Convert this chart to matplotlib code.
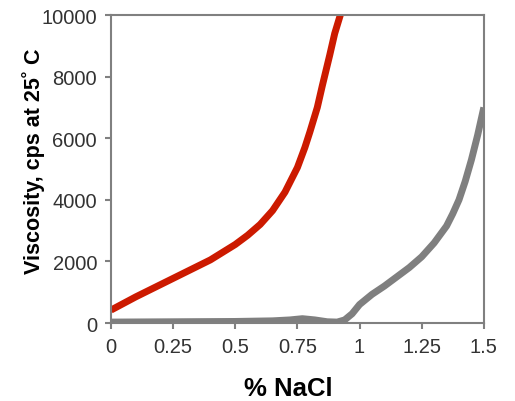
import matplotlib
matplotlib.use('Agg')
import matplotlib.pyplot as plt

plt.rcParams['font.family'] = ['Liberation Sans', 'DejaVu Sans']

# red curve (% NaCl vs viscosity)
red_x = [0, 0.1, 0.2, 0.25, 0.3, 0.4, 0.5, 0.55, 0.6, 0.65, 0.7, 0.75,
         0.78, 0.8, 0.83, 0.85, 0.88, 0.9, 0.93]
red_y = [420, 850, 1250, 1450, 1650, 2050, 2550, 2850, 3200, 3650, 4250, 5050,
         5700, 6200, 7000, 7700, 8700, 9400, 10200]

# gray curve
gray_x = [0, 0.25, 0.5, 0.65, 0.72, 0.77, 0.82, 0.87, 0.91, 0.94, 0.97, 1.0,
          1.05, 1.1, 1.15, 1.2, 1.25, 1.3, 1.35, 1.375, 1.4, 1.425, 1.45,
          1.475, 1.5]
gray_y = [30, 40, 50, 70, 100, 140, 100, 40, 30, 100, 300, 600,
          930, 1200, 1500, 1800, 2150, 2600, 3150, 3550, 4000, 4600, 5300,
          6100, 7000]

x_ticks = [0, 0.25, 0.5, 0.75, 1, 1.25, 1.5]
x_labels = ['0', '0.25', '0.5', '0.75', '1', '1.25', '1.5']
y_ticks = [0, 2000, 4000, 6000, 8000, 10000]


def main():
    fig = plt.figure(figsize=(5.15, 4.02), dpi=100)
    ax = fig.add_axes([0.2155, 0.194, 0.724, 0.766])
    ax.plot(gray_x, gray_y, color='#7f7f7f', lw=5, solid_capstyle='butt',
            solid_joinstyle='round')
    ax.plot(red_x, red_y, color='#cc1a00', lw=5, solid_capstyle='butt',
            solid_joinstyle='round')
    ax.set_xlim(0, 1.5)
    ax.set_ylim(0, 10000)
    ax.set_xticks(x_ticks)
    ax.set_xticklabels(x_labels)
    ax.set_yticks(y_ticks)
    for s in ax.spines.values():
        s.set_color('#808080')
        s.set_linewidth(1.5)
    ax.tick_params(direction='out', length=4, width=1.5, color='#808080',
                   labelsize=14.5, labelcolor='#333333', pad=6)
    ax.set_xlabel('% NaCl', fontsize=18.5, fontweight='bold')
    ax.xaxis.label.set_va('center')
    ax.xaxis.set_label_coords(0.475, -0.211)
    ax.set_ylabel('Viscosity, cps at 25˚ C', fontsize=15.5, fontweight='bold')
    ax.yaxis.label.set_va('center')
    ax.yaxis.set_label_coords(-0.209, 0.529)
    fig.savefig('out.png', dpi=100)


if __name__ == '__main__':
    main()
